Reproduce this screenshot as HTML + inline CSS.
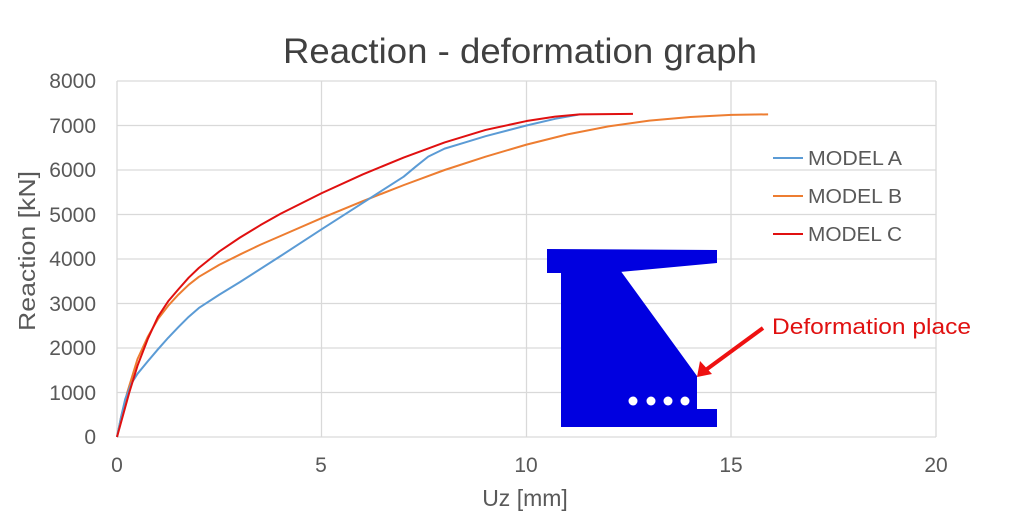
<!DOCTYPE html>
<html><head><meta charset="utf-8"><style>
body{margin:0;background:#fff}
svg{display:block;font-family:"Liberation Sans",sans-serif}
</style></head><body>
<svg width="1015" height="522" viewBox="0 0 1015 522">
<rect width="1015" height="522" fill="#fff"/>
<text x="520" y="63" font-size="35" fill="#404040" text-anchor="middle" textLength="474" lengthAdjust="spacingAndGlyphs">Reaction - deformation graph</text>
<g stroke="#d9d9d9" stroke-width="1.3">
<line x1="117" y1="81" x2="936" y2="81"/>
<line x1="117" y1="125.5" x2="936" y2="125.5"/>
<line x1="117" y1="170" x2="936" y2="170"/>
<line x1="117" y1="214.5" x2="936" y2="214.5"/>
<line x1="117" y1="259" x2="936" y2="259"/>
<line x1="117" y1="303.5" x2="936" y2="303.5"/>
<line x1="117" y1="348" x2="936" y2="348"/>
<line x1="117" y1="392.5" x2="936" y2="392.5"/>
<line x1="117" y1="81" x2="117" y2="437"/>
<line x1="321.5" y1="81" x2="321.5" y2="437"/>
<line x1="526.5" y1="81" x2="526.5" y2="437"/>
<line x1="731" y1="81" x2="731" y2="437"/>
<line x1="936" y1="81" x2="936" y2="437"/>
<line x1="117" y1="437" x2="936" y2="437"/>
</g>
<g font-size="21" fill="#595959" text-anchor="end">
<text x="96" y="88">8000</text><text x="96" y="133">7000</text><text x="96" y="177">6000</text>
<text x="96" y="222">5000</text><text x="96" y="266">4000</text><text x="96" y="311">3000</text>
<text x="96" y="355">2000</text><text x="96" y="400">1000</text><text x="96" y="444">0</text>
</g>
<g font-size="21" fill="#595959" text-anchor="middle">
<text x="117" y="472">0</text><text x="321" y="472">5</text><text x="526" y="472">10</text>
<text x="731" y="472">15</text><text x="936" y="472">20</text>
<text x="525" y="506" font-size="23">Uz [mm]</text>
</g>
<text transform="translate(35,251) rotate(-90)" font-size="23" fill="#595959" text-anchor="middle" textLength="160" lengthAdjust="spacingAndGlyphs">Reaction [kN]</text>
<g fill="none" stroke-width="2" stroke-linejoin="round" transform="translate(117,437) scale(40.95,-0.0445)">
<polyline vector-effect="non-scaling-stroke" stroke="#ed7d31" points="0,0 0.1,450 0.25,1000 0.5,1750 0.75,2250 1,2650 1.25,2950 1.5,3200 1.75,3420 2,3600 2.5,3870 3,4100 3.5,4320 4,4520 5,4920 6,5300 7,5660 8,6000 9,6300 10,6570 11,6800 12,6980 13,7110 14,7190 15,7240 15.9,7250"/>
<polyline vector-effect="non-scaling-stroke" stroke="#5b9bd5" points="0,0 0.1,450 0.2,850 0.35,1200 0.5,1420 0.75,1700 1,1970 1.25,2230 1.5,2470 1.75,2700 2,2900 2.5,3200 3,3480 4,4070 5,4670 6,5260 7,5850 7.3,6080 7.6,6300 8,6480 8.5,6620 9,6760 10,7000 10.7,7150 11.3,7250"/>
<polyline vector-effect="non-scaling-stroke" stroke="#e01010" points="0,0 0.15,500 0.3,1000 0.5,1600 0.75,2200 1,2700 1.25,3050 1.5,3320 1.75,3580 2,3800 2.5,4170 3,4480 3.5,4760 4,5020 5,5480 6,5900 7,6280 8,6620 9,6900 10,7100 10.7,7200 11.3,7250 12.6,7260"/>
</g>
<g stroke-width="2"><line x1="773" y1="158" x2="803" y2="158" stroke="#5b9bd5"/>
<line x1="773" y1="196" x2="803" y2="196" stroke="#ed7d31"/>
<line x1="773" y1="234" x2="803" y2="234" stroke="#e01010"/></g>
<g font-size="20" fill="#595959"><text x="808" y="165" textLength="94" lengthAdjust="spacingAndGlyphs">MODEL A</text><text x="808" y="203" textLength="94" lengthAdjust="spacingAndGlyphs">MODEL B</text><text x="808" y="241" textLength="94" lengthAdjust="spacingAndGlyphs">MODEL C</text></g>
<polygon fill="#0000e0" points="547,249 717,250 717,263 620,272 561,273 561,273 547,273"/>
<polygon fill="#0000e0" points="561,270 620,270 697,376 697,409 717,409 717,427 561,427"/>
<g fill="#fff"><circle cx="633" cy="401" r="4.5"/><circle cx="651" cy="401" r="4.5"/><circle cx="668" cy="401" r="4.5"/><circle cx="685" cy="401" r="4.5"/></g>
<line x1="763" y1="328" x2="703" y2="372" stroke="#ee1111" stroke-width="4"/>
<polygon fill="#ee1111" points="697,377 700,361 712,374"/>
<text x="772" y="334" font-size="22" fill="#e01010" textLength="199" lengthAdjust="spacingAndGlyphs">Deformation place</text>
</svg>
</body></html>
